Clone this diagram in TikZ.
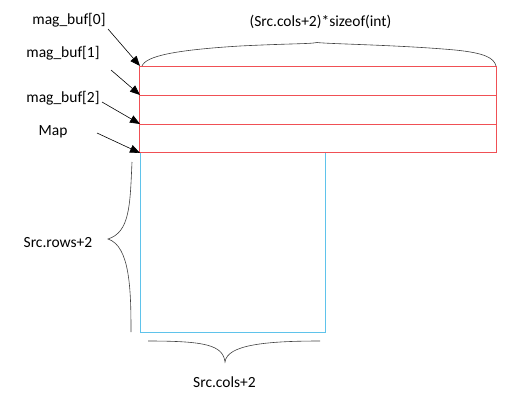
\documentclass[tikz,border=0pt]{standalone}
\usepackage{fontspec}
\setmainfont{Carlito}
\usetikzlibrary{arrows.meta}
\definecolor{bufred}{RGB}{240,80,85}
\definecolor{mapblue}{RGB}{95,195,235}
\begin{document}
\begin{tikzpicture}[x=1pt,y=-1pt,
  lbl/.style={inner sep=0pt,font=\fontsize{15.5}{18}\selectfont},
  ptr/.style={-{Triangle[length=10pt,width=8pt]},line width=0.6pt},
  brace/.style={line width=0.6pt,black!75}]
\useasboundingbox (0,0) rectangle (505,400);
% blue map region
\draw[mapblue,line width=0.9pt] (140,152) -- (140,332) -- (325,332) -- (325,152);
% red buffers
\draw[bufred,line width=0.9pt] (139,66) rectangle (496,152);
\draw[bufred,line width=0.9pt] (139,95) -- (496,95);
\draw[bufred,line width=0.9pt] (139,124) -- (496,124);
% labels
\node[lbl] (m0) at (69,20) {mag\_buf[0]};
\node[lbl] (m1) at (63,53) {mag\_buf[1]};
\node[lbl] (m2) at (63,98) {mag\_buf[2]};
\node[lbl] (mp) at (53,132) {Map};
\node[lbl] (w) at (320.5,22) {(Src.cols+2)*sizeof(int)};
\node[lbl] (h) at (58,243) {Src.rows+2};
\node[lbl] (c) at (224.5,382) {Src.cols+2};
% arrow coordinates
\coordinate (a0s) at (108,29);  \coordinate (a0e) at (140,66);
\coordinate (a1s) at (111,70);  \coordinate (a1e) at (140,95);
\coordinate (a2s) at (102,102); \coordinate (a2e) at (140,124);
\coordinate (a3s) at (97,133);  \coordinate (a3e) at (140,153);
\draw[ptr] (a0s) -- (a0e);
\draw[ptr] (a1s) -- (a1e);
\draw[ptr] (a2s) -- (a2e);
\draw[ptr] (a3s) -- (a3e);
% braces
\draw[brace] (142,66) .. controls (146,56) and (175,50) .. (240,46)
  .. controls (290,43.5) and (310,44) .. (317,42.5)
  .. controls (330,44) and (400,45) .. (455,50)
  .. controls (485,53) and (494,58) .. (496,66);
\draw[brace] (132,162) .. controls (130,205) and (130,232) .. (108,239)
  .. controls (130,246) and (131,290) .. (131,332);
\draw[brace] (148,341) .. controls (205,341) and (223,345) .. (225,362)
  .. controls (227,345) and (265,341) .. (320,341);
\end{tikzpicture}
\end{document}
